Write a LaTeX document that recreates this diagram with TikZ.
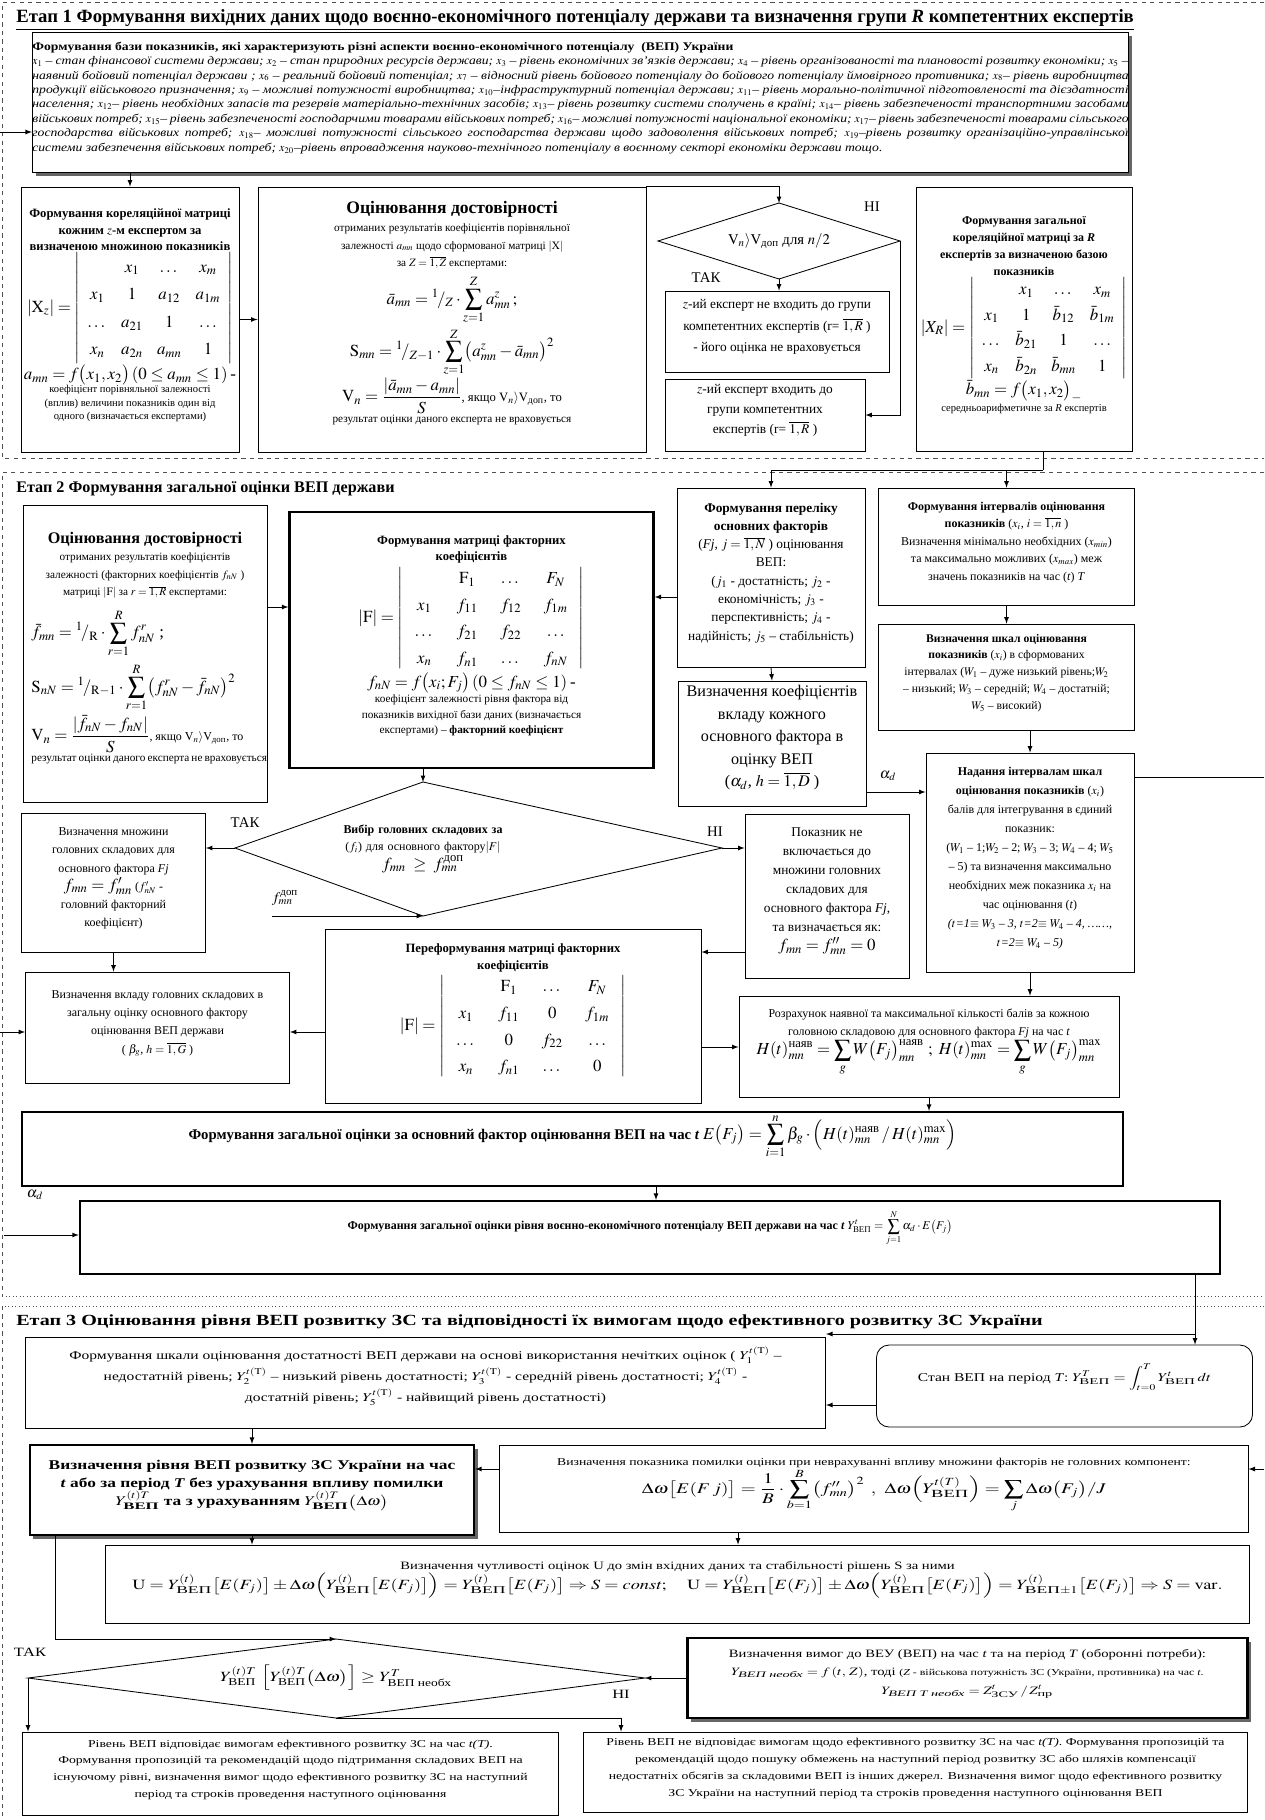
\documentclass[tikz,border=0pt]{standalone}
\usepackage{amsmath,amssymb}
\usepackage{mathptmx}
\usepackage{fontspec}
\setmainfont{Liberation Serif}
\newfontfamily\widefont[FakeStretch=1.3,Ligatures=TeX]{Liberation Serif}
\newfontfamily\infofont[FakeStretch=1.17,Ligatures=TeX]{Liberation Serif}
\usetikzlibrary{arrows,fit,shadows}
\definecolor{framegray}{RGB}{80,80,80}
\newcommand{\wmath}[1]{\scalebox{1.3}[1]{#1}}

\begin{document}
\begin{tikzpicture}[x=0.025cm, y=-0.025cm, >=latex,
  box/.style={draw, fill=white, line width=0.6pt, inner sep=0pt, align=center,
    font=\fontsize{8.5}{12}\selectfont},
  bbox/.style={box, line width=1.6pt},
  shbox/.style={drop shadow={shadow xshift=2.5pt, shadow yshift=-2.5pt, fill=black!75, opacity=0.8}},
  wbox/.style={box, font=\widefont\fontsize{8.5}{15}\selectfont},
  arr/.style={->, line width=0.6pt},
  lbl/.style={inner sep=1pt, font=\fontsize{10.5}{12}\selectfont},
  dtext/.style={inner sep=0pt, align=center},
  stagehd/.style={anchor=west, inner sep=0pt, font=\fontsize{11.5}{13}\selectfont\bfseries},
  stageframe/.style={framegray, dashed, line width=0.5pt}]

  \fill[white] (0,0) rectangle (1264,1820);
  \useasboundingbox (0,0) rectangle (1264,1820);

  % stage frames
  \draw[stageframe] (1264,2) -- (2,2) -- (2,458) -- (1264,458);
  \draw[stageframe] (1264,472) -- (2,472) -- (2,1296);
  \draw[stageframe, dotted] (2,1296) -- (1264,1296);
  \draw[stageframe, dotted] (1264,1306) -- (2,1306);
  \draw[stageframe] (2,1306) -- (2,1820);

  % ---------------- stage 1
  \node[stagehd, font=\fontsize{13.3}{15}\selectfont\bfseries] (hd1) at (16,20) {\underline{Етап 1 Формування вихідних даних щодо воєнно-економічного потенціалу держави та визначення групи \textit{R} компетентних експертів}};

  \node[box, shbox, fit={(23,32) (1138,172)}, text width=27.4cm, align=justify,
    font=\infofont\fontsize{8.3}{10.3}\selectfont] (base) {{\bfseries Формування бази показників, які характеризують різні аспекти воєнно-економічного потенціалу~~(ВЕП) України}\\
    \itshape $x_1$ -- стан фінансової системи держави; $x_2$ -- стан природних ресурсів держави; $x_3$ -- рівень економічних зв'язків держави; $x_4$ -- рівень організованості та плановості розвитку економіки; $x_5$ -- наявний бойовий потенціал держави ; $x_6$ -- реальний бойовий потенціал; $x_7$ -- відносний рівень бойового потенціалу до бойового потенціалу ймовірного противника; $x_8$-- рівень виробництва продукції військового призначення; $x_9$ -- можливі потужності виробництва; $x_{10}$--інфраструктурний потенціал держави; $x_{11}$-- рівень морально-політичної підготовленості та дієздатності населення; $x_{12}$-- рівень необхідних запасів та резервів матеріально-технічних засобів; $x_{13}$-- рівень розвитку системи сполучень в країні; $x_{14}$-- рівень забезпеченості транспортними засобами військових потреб; $x_{15}$-- рівень забезпеченості господарчими товарами військових потреб; $x_{16}$-- можливі потужності національної економіки; $x_{17}$-- рівень забезпеченості товарами сільського господарства військових потреб; $x_{18}$-- можливі потужності сільського господарства держави щодо задоволення військових потреб; $x_{19}$--рівень розвитку організаційно-управлінської системи забезпечення військових потреб; $x_{20}$--рівень впровадження науково-технічного потенціалу в воєнному секторі економіки держави тощо.};

  \node[box, fit={(17,187) (243,452)}, text width=5.45cm] (cormat) {%
    {\bfseries\fontsize{9}{12}\selectfont Формування кореляційної матриці\\ кожним $z$-м експертом за\\ визначеною множиною показників\par}
    {\large\renewcommand{\arraystretch}{1.4}\setlength{\arraycolsep}{5pt}$|\mathrm{X}_z| = \left|\begin{array}{cccc} & x_1 & \dots & x_m\\ x_1 & 1 & a_{12} & a_{1m}\\ \dots & a_{21} & 1 & \dots\\ x_n & a_{2n} & a_{mn} & 1\end{array}\right|$\par}
    {\large $a_{mn} = f\bigl(x_1, x_2\bigr)\,(0\le a_{mn}\le 1)$\,-\par}
    {\fontsize{7.5}{9.5}\selectfont коефіцієнт порівняльної залежності\\ (вплив) величини показників один від\\ одного (визначається експертами)\par}};

  \node[box, fit={(253,187) (651,452)}, text width=9.7cm] (ocin) {%
    {\bfseries\fontsize{12.5}{15}\selectfont Оцінювання достовірності\par}
    {\fontsize{8}{12.5}\selectfont отриманих результатів коефіцієнтів порівняльної\\ залежності $a_{mn}$ щодо сформованої матриці $|\mathrm{X}|$\\ за $Z=\overline{1,Z}$ експертами:\par}
    \vspace{4pt}
    {\large $\displaystyle \bar a_{mn} = {}^{1}\!/_{Z}\cdot\sum_{z=1}^{Z} a^{z}_{mn}\,;$\par
    \vspace{2pt}
    $\displaystyle \mathrm{S}_{mn} = {}^{1}\!/_{Z-1}\cdot\sum_{z=1}^{Z}\bigl(a^{z}_{mn}-\bar a_{mn}\bigr)^2$\par
    $\displaystyle \mathrm{V}_n = \frac{|\bar a_{mn}-a_{mn}|}{S}$}{\fontsize{9}{11}\selectfont, якщо $\mathrm{V}_n\rangle\mathrm{V}_{\text{доп}}$, то\par}
    {\fontsize{8}{10}\selectfont результат оцінки даного експерта не враховується\par}};

  \coordinate (d1t) at (779,203);
  \coordinate (d1l) at (658,241);
  \coordinate (d1r) at (900,241);
  \coordinate (d1b) at (779,279);
  \draw[line width=0.6pt] (d1t) -- (d1r) -- (d1b) -- (d1l) -- cycle;
  \node[dtext, font=\fontsize{10.5}{12}\selectfont] (d1) at (779,241) {$\mathrm{V}_n\rangle\mathrm{V}_{\text{доп}}$ для $n/2$};
  \node[lbl] (no1) at (872,207) {НІ};
  \node[lbl] (yes1) at (706,278) {ТАК};

  \node[box, fit={(661,291) (893,372)}, text width=5.6cm, font=\fontsize{9.5}{15}\selectfont] (notin) {$z$-ий експерт не входить до групи\\ компетентних експертів (r= $\overline{1,R}$ )\\ - його оцінка не враховується};
  \node[box, fit={(661,379) (869,451)}, text width=5cm, font=\fontsize{9.5}{14}\selectfont] (isin) {$z$-ий експерт входить до\\ групи компетентних\\ експертів (r= $\overline{1,R}$ )};

  \node[box, fit={(912,187) (1136,451)}, text width=5.4cm] (zagmat) {%
    {\bfseries\fontsize{8.5}{12}\selectfont Формування загальної\\ кореляційної матриці за \textit{R}\\ експертів за визначеною базою\\ показників\par}
    {\large\renewcommand{\arraystretch}{1.3}\setlength{\arraycolsep}{5pt}$|X_R| = \left|\begin{array}{cccc} & x_1 & \dots & x_m\\ x_1 & 1 & \bar b_{12} & \bar b_{1m}\\ \dots & \bar b_{21} & 1 & \dots\\ x_n & \bar b_{2n} & \bar b_{mn} & 1\end{array}\right|$\par}
    {\large $\bar b_{mn} = f\bigl(x_1, x_2\bigr)_{-}$\par}
    {\fontsize{7.5}{10}\selectfont середньоарифметичне за \textit{R} експертів\par}};

  \draw[arr] (base.south -| cormat.north) -- (cormat.north);
  \draw[arr] (cormat.east) -- (ocin.west);
  \draw[arr] (ocin.north east) -| (d1t);
  \draw[arr] (d1b) -- (d1b |- notin.north);
  \draw[arr] (d1r) |- (isin.east);
  \coordinate (cutL1) at (0,132);
  \draw[arr] (cutL1) -- (base.west |- cutL1);

  % ---------------- stage 2
  \node[stagehd] (hd2) at (16,489) {Етап 2 Формування загальної оцінки ВЕП держави};

  \node[box, fit={(17,505) (273,802)}, text width=6.1cm] (ocin2) {%
    {\bfseries\fontsize{11.5}{14}\selectfont Оцінювання достовірності\par}
    {\fontsize{8}{12.5}\selectfont отриманих результатів коефіцієнтів\\ залежності (факторних коефіцієнтів $f_{nN}$ )\\ матриці $|\mathrm{F}|$ за $r=\overline{1,R}$ експертами:\par}
    \vspace{7pt}
    \raggedright\leftskip=6pt
    {\large $\displaystyle \bar f_{mn} = {}^{1}\!/_{\mathrm{R}}\cdot\sum_{r=1}^{R} f^{r}_{nN}$ ;\par
    \vspace{4pt}
    $\displaystyle \mathrm{S}_{nN} = {}^{1}\!/_{\mathrm{R}-1}\cdot\sum_{r=1}^{R}\bigl(f^{r}_{nN}-\bar f_{nN}\bigr)^2$\par
    \vspace{2pt}
    $\displaystyle \mathrm{V}_n = \frac{|\bar f_{nN}-f_{nN}|}{S}$}{\fontsize{8.5}{10}\selectfont, якщо $\mathrm{V}_n\rangle\mathrm{V}_{\text{доп}}$, то\par}
    \rightskip0pt\parfillskip0pt plus 1fil
    {\fontsize{8}{10}\selectfont результат оцінки даного експерта не враховується\par}};

  \node[bbox, fit={(285,512) (658,768)}, text width=9.1cm] (fmat) {%
    {\bfseries\fontsize{9}{12}\selectfont Формування матриці факторних\\ коефіцієнтів\par}
    {\large\renewcommand{\arraystretch}{1.35}\setlength{\arraycolsep}{8pt}$|\mathrm{F}| = \left|\begin{array}{cccc} & \mathrm{F}_1 & \dots & F_N\\ x_1 & f_{11} & f_{12} & f_{1m}\\ \dots & f_{21} & f_{22} & \dots\\ x_n & f_{n1} & \dots & f_{nN}\end{array}\right|$\par}
    {\large $f_{nN} = f\bigl(x_i; F_j\bigr)\,(0\le f_{nN}\le 1)$\,-\par}
    {\fontsize{8}{11}\selectfont коефіцієнт залежності рівня фактора від\\ показників вихідної бази даних (визначається\\ експертами) -- \textbf{факторний коефіцієнт}\par}};

  \node[box, fit={(675,488) (867,667)}, text width=4.7cm, font=\fontsize{9.5}{13}\selectfont] (factors) {{\bfseries Формування переліку\\ основних факторів}\\ (\textit{Fj}, $j=\overline{1,N}$ ) оцінювання\\ ВЕП:\\ ($j_1$ - достатність; $j_2$ -\\ економічність; $j_3$ -\\ перспективність; $j_4$ -\\ надійність; $j_5$ -- стабільність)};

  \node[box, fit={(675,681) (869,806)}, text width=4.7cm, font=\fontsize{11.5}{16}\selectfont] (weights) {Визначення коефіцієнтів\\ вкладу кожного\\ основного фактора в\\ оцінку ВЕП\\ ($\alpha_d$, $h=\overline{1,D}$ )};

  \node[box, fit={(877,488) (1136,605)}, text width=6.4cm, font=\fontsize{8.5}{12.5}\selectfont] (ranges) {{\bfseries Формування інтервалів оцінювання\\ показників} ($x_i$, $i=\overline{1,n}$ )\\ Визначення мінімально необхідних ($x_{min}$)\\ та максимально можливих ($x_{max}$) меж\\ значень показників на час (\textit{t}) \textit{T}};

  \node[box, fit={(877,624) (1136,730)}, text width=6.4cm, font=\fontsize{8.3}{12}\selectfont] (scales) {{\bfseries Визначення шкал оцінювання\\ показників} ($x_i$) в сформованих\\ інтервалах ($W_1$ -- дуже низький рівень;$W_2$\\ -- низький; $W_3$ -- середній; $W_4$ -- достатній;\\ $W_5$ -- високий)};

  \node[box, fit={(924,753) (1136,972)}, text width=5.2cm, font=\fontsize{8.5}{13.5}\selectfont] (points) {{\bfseries Надання інтервалам шкал\\ оцінювання показників} ($x_i$)\\ балів для інтегрування в єдиний\\ показник:\\ ($W_1$ -- 1;$W_2$ -- 2; $W_3$ -- 3; $W_4$ -- 4; $W_5$\\ -- 5) та визначення максимально\\ необхідних меж показника $x_i$ на\\ час оцінювання (\textit{t})\\ \itshape ($t$=1$\equiv$ $W_3$ -- 3, $t$=2$\equiv$ $W_4$ -- 4, \dots\dots,\\ $t$=2$\equiv$ $W_4$ -- 5)};

  \coordinate (d2t) at (423,782);
  \coordinate (d2l) at (235,848);
  \coordinate (d2r) at (722,848);
  \coordinate (d2b) at (423,916);
  \draw[line width=0.6pt] (d2t) -- (d2r) -- (d2b) -- (d2l) -- cycle;
  \node[dtext, text width=5.2cm, font=\fontsize{8.5}{12}\selectfont] (d2) at (423,849) {{\bfseries Вибір головних складових за}\\ ($f_i$) для основного фактору$|F|$\\ {\large $f_{mn}\ge f^{\text{доп}}_{mn}$}};
  \node[lbl] (yes2) at (245,823) {ТАК};
  \node[lbl] (no2) at (715,832) {НІ};

  \node[box, fit={(17,813) (210,952)}, text width=4.6cm, font=\fontsize{8.5}{13}\selectfont] (mainset) {Визначення множини\\ головних складових для\\ основного фактора \textit{Fj}\\ {\large $f_{mn} = f'_{mn}$} ($f'_{nN}$ -\\ головний факторний\\ коефіцієнт)};

  \node[box, fit={(742,814) (912,978)}, text width=4.1cm, font=\fontsize{9.5}{13.5}\selectfont] (excl) {Показник не\\ включається до\\ множини головних\\ складових для\\ основного фактора \textit{Fj},\\ та визначається як:\\ {\large $f_{mn} = f''_{mn} = 0$}};

  \node[box, fit={(320,929) (706,1103)}, text width=9.4cm] (refmat) {%
    {\bfseries\fontsize{9}{12}\selectfont Переформування матриці факторних\\ коефіцієнтів\par}
    {\large\renewcommand{\arraystretch}{1.35}\setlength{\arraycolsep}{8pt}$|\mathrm{F}| = \left|\begin{array}{cccc} & \mathrm{F}_1 & \dots & F_N\\ x_1 & f_{11} & 0 & f_{1m}\\ \dots & 0 & f_{22} & \dots\\ x_n & f_{n1} & \dots & 0\end{array}\right|$\par}};

  \node[box, fit={(22,972) (293,1083)}, text width=6.6cm, font=\fontsize{8.5}{13}\selectfont] (contrib) {Визначення вкладу головних складових в\\ загальну оцінку основного фактору\\ оцінювання ВЕП держави\\ ( $\beta_g$, $h=\overline{1,G}$ )};

  \node[box, fit={(735,996) (1123,1097)}, text width=9.5cm, font=\fontsize{8.5}{12.5}\selectfont] (scores) {Розрахунок наявної та максимальної кількості балів за кожною\\ головною складовою для основного фактора \textit{Fj} на час \textit{t}\par
    {\large $\displaystyle H(t)^{\text{наяв}}_{mn} = \sum_{g} W\bigl(F_j\bigr)^{\text{наяв}}_{mn}\ ;\ H(t)^{\max}_{mn} = \sum_{g} W\bigl(F_j\bigr)^{\max}_{mn}$\par}};

  \node[bbox, fit={(13,1112) (1132,1186)}, text width=27.5cm, font=\fontsize{10.5}{13}\selectfont] (efactor) {{\bfseries Формування загальної оцінки за основний фактор оцінювання ВЕП на час \textit{t}} {\large $\displaystyle E\bigl(F_j\bigr) = \sum_{i=1}^{n}\beta_g\cdot\Bigl(H(t)^{\text{наяв}}_{mn}\,/\,H(t)^{\max}_{mn}\Bigr)$}};

  \node[bbox, fit={(72,1201) (1228,1274)}, text width=28.5cm, font=\fontsize{8.5}{11}\selectfont] (ytotal) {{\bfseries Формування загальної оцінки рівня воєнно-економічного потенціалу ВЕП держави на час \textit{t}} $\displaystyle Y^{t}_{\text{ВЕП}} = \sum_{j=1}^{N}\alpha_d\cdot E\bigl(F_j\bigr)$};

  \node[lbl] (alpha1) at (888,776) {$\alpha_d$};
  \node[lbl] (alpha2) at (35,1195) {$\alpha_d$};
  \coordinate (fdop) at (272,916);
  \node[lbl] (fdoplbl) at (285,898) {$f^{\text{доп}}_{mn}$};

  \coordinate (split) at (1043,470);
  \draw[line width=0.6pt] (zagmat.south -| split) -- (split);
  \draw[arr] (split) -| (factors.north);
  \draw[arr] (split -| ranges.north) -- (ranges.north);
  \draw[arr] (factors.west |- 0,597) -- (fmat.east |- 0,597);
  \draw[arr] (ocin2.east |- 0,607) -- (fmat.west |- 0,607);
  \draw[arr] (factors.south) -- (weights.north);
  \draw[arr] (weights.east |- 0,792) -- (points.west |- 0,792);
  \draw[arr] (ranges.south) -- (scales.north);
  \draw[arr] (scales.south -| points.north) -- (points.north);
  \coordinate (cutR1) at (1264,777);
  \draw[line width=0.6pt] (points.east |- cutR1) -- (cutR1);
  \draw[arr] (points.south) -- (points.south |- scores.north);
  \draw[arr] (fmat.south -| d2t) -- (d2t);
  \draw[arr] (d2l) -- (mainset.east |- d2l);
  \draw[arr] (d2r) -- (excl.west |- d2r);
  \draw[arr] (fdop) -- (d2b);
  \draw[arr] (mainset.south) -- (mainset.south |- contrib.north);
  \draw[arr] (excl.west |- 0,952) -- (refmat.east |- 0,952);
  \draw[arr] (refmat.west |- 0,1032) -- (contrib.east |- 0,1032);
  \coordinate (cutL2) at (0,1032);
  \draw[arr] (cutL2) -- (contrib.west |- cutL2);
  \draw[arr] (refmat.east |- 0,1047) -- (scores.west |- 0,1047);
  \draw[arr] (scores.south) -- (scores.south |- efactor.north);
  \draw[arr] (efactor.south -| 656,0) -- (ytotal.north -| 656,0);
  \coordinate (cutL3) at (4,1235);
  \draw[arr] (cutL3) -- (ytotal.west |- cutL3);

  % ---------------- stage 3
  \node[stagehd, font=\widefont\fontsize{11}{13}\selectfont\bfseries] (hd3) at (16,1322) {Етап 3 Оцінювання рівня ВЕП розвитку ЗС та відповідності їх вимогам щодо ефективного розвитку ЗС України};

  \node[wbox, fit={(20,1337) (831,1428)}, text width=20cm] (fuzzy) {Формування шкали оцінювання достатності ВЕП держави на основі використання нечітких оцінок ( \wmath{$Y^{t(\mathrm{T})}_{1}$} --\\ недостатній рівень; \wmath{$Y^{t(\mathrm{T})}_{2}$} -- низький рівень достатності; \wmath{$Y^{t(\mathrm{T})}_{3}$} - середній рівень достатності; \wmath{$Y^{t(\mathrm{T})}_{4}$} -\\ достатній рівень; \wmath{$Y^{t(\mathrm{T})}_{5}$} - найвищий рівень достатності)};

  \node[wbox, rounded corners=9pt, fit={(871,1345) (1258,1427)}, text width=9.4cm] (state) {Стан ВЕП на період \textit{T}: \wmath{$\displaystyle Y^{T}_{\text{ВЕП}} = \int_{t=0}^{T} Y^{t}_{\text{ВЕП}}\,dt$}};

  \node[wbox, bbox, shbox, fit={(24,1445) (480,1535)}, text width=11.1cm, font=\widefont\fontsize{9.5}{13}\selectfont\bfseries] (level) {Визначення рівня ВЕП розвитку ЗС України на час\\ \textit{t} або за період \textit{T} без урахування впливу помилки\\ \wmath{$Y^{(t)T}_{\text{ВЕП}}$} та з урахуванням \wmath{$Y^{(t)T}_{\text{ВЕП}}\bigl(\Delta\omega\bigr)$}};

  \node[wbox, fit={(494,1445) (1254,1532)}, text width=18.7cm, font=\widefont\fontsize{7.5}{12}\selectfont] (error) {Визначення показника помилки оцінки при неврахуванні впливу множини факторів не головних компонент:\par
    {\fontsize{10.5}{12}\selectfont\wmath{$\displaystyle \Delta\omega\bigl[E(F\,j)\bigr] = \frac{1}{B}\cdot\sum_{b=1}^{B}\bigl(f''_{mn}\bigr)^2\ ,\ \Delta\omega\Bigl(Y^{t(T)}_{\text{ВЕП}}\Bigr) = \sum_{j}\Delta\omega\bigl(F_j\bigr)/J$}\par}};

  \node[wbox, fit={(101,1545) (1254,1623)}, text width=28.6cm, font=\widefont\fontsize{8}{12}\selectfont] (sens) {Визначення чутливості оцінок U до змін вхідних даних та стабільності рішень S за ними\par
    {\normalsize\wmath{$\mathrm{U} = Y^{(t)}_{\text{ВЕП}}\bigl[E(F_j)\bigr] \pm \Delta\omega\Bigl(Y^{(t)}_{\text{ВЕП}}\bigl[E(F_j)\bigr]\Bigr) = Y^{(t)}_{\text{ВЕП}}\bigl[E(F_j)\bigr] \Rightarrow S = \mathit{const};\quad \mathrm{U} = Y^{(t)}_{\text{ВЕП}}\bigl[E(F_j)\bigr] \pm \Delta\omega\Bigl(Y^{(t)}_{\text{ВЕП}}\bigl[E(F_j)\bigr]\Bigr) = Y^{(t)}_{\text{ВЕП}\pm1}\bigl[E(F_j)\bigr] \Rightarrow S = \mathrm{var}.$}\par}};

  \coordinate (d3t) at (336,1639);
  \coordinate (d3l) at (28,1678);
  \coordinate (d3r) at (645,1678);
  \coordinate (d3b) at (336,1718);
  \draw[line width=0.6pt] (d3t) -- (d3r) -- (d3b) -- (d3l) -- cycle;
  \node[dtext] (d3) at (336,1678) {\wmath{$Y^{(t)T}_{\text{ВЕП}}\ \Bigl[Y^{(t)T}_{\text{ВЕП}}\bigl(\Delta\omega\bigr)\Bigr]\ge Y^{T}_{\text{ВЕП необх}}$}};
  \node[lbl, font=\widefont\fontsize{9}{11}\selectfont] (yes3) at (30,1652) {ТАК};
  \node[lbl, font=\widefont\fontsize{9}{11}\selectfont] (no3) at (621,1694) {НІ};

  \node[wbox, bbox, shbox, fit={(681,1638) (1254,1718)}, text width=14cm, font=\widefont\fontsize{8}{13}\selectfont] (demand) {Визначення вимог до ВЕУ (ВЕП) на час \textit{t} та на період \textit{T} (оборонні потреби):\\ \wmath{$Y_{\text{\itshape ВЕП необх}}=f\,(t,\,Z)$}, тоді {\fontsize{6.5}{8}\selectfont (\textit{Z} - військова потужність ЗС (України, противника) на час \textit{t}.}\\ \wmath{$Y_{\text{\itshape ВЕП T необх}} = Z^{t}_{\text{ЗСУ}}\,/\,Z^{t}_{\text{пр}}$}};

  \node[wbox, fit={(16,1732) (565,1815)}, text width=13.4cm, font=\widefont\fontsize{7.5}{12}\selectfont] (ok) {Рівень ВЕП відповідає вимогам ефективного розвитку ЗС на час \textit{t(T)}.\\ Формування пропозицій та рекомендацій щодо підтримання складових ВЕП на\\ існуючому рівні, визначення вимог щодо ефективного розвитку ЗС на наступний\\ період та строків проведення наступного оцінювання};

  \node[wbox, fit={(577,1732) (1254,1812)}, text width=16.6cm, font=\widefont\fontsize{7.5}{12}\selectfont] (notok) {Рівень ВЕП не відповідає вимогам щодо ефективного розвитку ЗС на час \textit{t(T)}. Формування пропозицій та\\ рекомендацій щодо пошуку обмежень на наступний період розвитку ЗС або шляхів компенсації\\ недостатніх обсягів за складовими ВЕП із інших джерел. Визначення вимог щодо ефективного розвитку\\ ЗС України на наступний період та строків проведення наступного оцінювання ВЕП};

  \coordinate (j3) at (1195,1334);
  \draw[line width=0.6pt] (ytotal.south -| j3) -- (j3);
  \draw[arr] (j3) -- (state.north -| j3);
  \draw[arr] (j3) -- (fuzzy.north east |- j3);
  \draw[arr] (state.west |- 0,1405) -- (fuzzy.east |- 0,1405);
  \draw[arr] (fuzzy.south -| level.north) -- (level.north);
  \draw[arr] (error.west |- 0,1469) -- (level.east |- 0,1469);
  \coordinate (cutR2) at (1264,1469);
  \draw[arr] (cutR2) -- (error.east |- cutR2);
  \draw[arr] (level.south) -- (level.south |- sens.north);
  \draw[arr] (error.south -| 738,0) -- (sens.north -| 738,0);
  \draw[arr] (level.south -| 55,0) |- (d3t);
  \draw[arr] (demand.west |- d3r) -- (d3r);
  \draw[arr] (d3l) -- (d3l |- ok.north);
  \coordinate (d3bend) at (621,1718);
  \draw[line width=0.6pt] (d3b) -- (d3bend);
  \draw[arr] (d3bend) -- (d3bend |- notok.north);
\end{tikzpicture}
\end{document}
